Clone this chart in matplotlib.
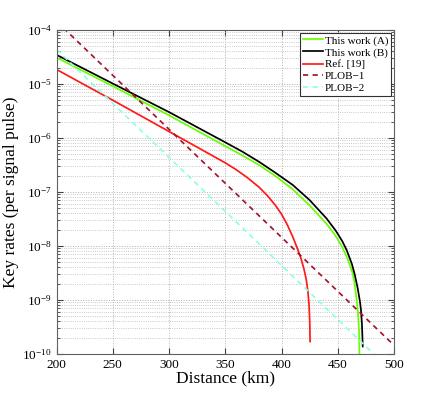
import matplotlib
matplotlib.use("Agg")
import matplotlib.pyplot as plt
from matplotlib.ticker import LogLocator, NullFormatter, FixedLocator

plt.rcParams['font.family'] = ['Liberation Serif', 'DejaVu Serif']
plt.rcParams['mathtext.fontset'] = 'stix'

# Data
dist_a = [200, 250, 300, 350, 365, 380, 395, 410, 425, 440, 448, 454, 459,
          463, 465, 466.8, 468, 469.0, 469.4]
rate_a = [3.09e-5, 9.12e-6, 2.63e-6, 7.08e-7, 4.79e-7, 3.16e-7, 1.95e-7,
          1.12e-7, 5.62e-8, 2.57e-8, 1.55e-8, 9.55e-9, 5.62e-9,
          3.24e-9, 2.0e-9, 1.0e-9, 5.62e-10, 2.51e-10, 6.3e-11]

dist_b = [200, 250, 300, 350, 365, 380, 395, 410, 425, 440, 448, 454, 458,
          462.5, 465, 467.7, 469.8, 470.7, 471.5, 472.2]
rate_b = [3.47e-5, 1.02e-5, 3.02e-6, 8.32e-7, 5.62e-7, 3.63e-7, 2.24e-7,
          1.35e-7, 7.08e-8, 3.24e-8, 1.95e-8, 1.23e-8, 8.32e-9,
          4.68e-9, 3.02e-9, 1.66e-9, 9.12e-10, 6.31e-10, 3.55e-10, 1.38e-10]

dist_ref = [200, 250, 300, 350, 360, 370, 380, 388, 395, 400, 405, 410, 414,
            417, 420, 422, 423.5, 424.5, 425.1, 425.4]
rate_ref = [1.86e-5, 5.01e-6, 1.32e-6, 3.47e-7, 2.57e-7, 1.82e-7, 1.23e-7,
            8.32e-8, 5.50e-8, 3.89e-8, 2.51e-8, 1.48e-8, 9.12e-9,
            6.17e-9, 3.72e-9, 2.40e-9, 1.41e-9, 7.94e-10, 3.98e-10, 1.70e-10]

dist_plob = [200, 250, 300, 350, 400, 450, 500]
rate_plob1 = [1.45e-4, 1.45e-5, 1.45e-6, 1.45e-7, 1.45e-8, 1.45e-9, 1.45e-10]
rate_plob2 = [4.37e-5, 4.37e-6, 4.37e-7, 4.37e-8, 4.37e-9, 4.37e-10, 4.37e-11]

labels = ["This work (A)", "This work (B)", "Ref. [19]", "PLOB\u22121", "PLOB\u22122"]

fig = plt.figure(figsize=(4.36, 3.99), dpi=100)
ax = fig.add_axes([0.1296, 0.1128, 0.7741, 0.812])

lw = 1.25
ax.plot(dist_a, rate_a, color='#66ff00', lw=lw, label=labels[0])
ax.plot(dist_b, rate_b, color='black', lw=lw, label=labels[1])
ax.plot(dist_ref, rate_ref, color='#ff1a1a', lw=lw, label=labels[2])
ax.plot(dist_plob, rate_plob1, color='#a3162e', lw=lw, ls=(0, (3, 2.5)), label=labels[3])
ax.plot(dist_plob, rate_plob2, color='#8cffe6', lw=lw, ls=(0, (3, 2.5)), label=labels[4])

ax.set_yscale('log')
ax.set_xlim(200, 500)
ax.set_ylim(1e-10, 1e-4)
ax.xaxis.set_major_locator(FixedLocator([200, 250, 300, 350, 400, 450, 500]))
ax.yaxis.set_major_locator(LogLocator(base=10, numticks=10))
ax.yaxis.set_minor_locator(LogLocator(base=10, subs=range(2, 10), numticks=100))
ax.yaxis.set_minor_formatter(NullFormatter())

ax.grid(True, which='major', ls=':', color='#b0b0b0', lw=0.7)
ax.grid(True, which='minor', axis='y', ls=':', color='#b8b8b8', lw=0.6)

ax.tick_params(which='both', direction='in', top=True, right=True,
               labelsize=9.5, colors='#404040', labelcolor='black')
ax.tick_params(which='major', length=4)
ax.tick_params(which='minor', length=2)
for s in ax.spines.values():
    s.set_color('#606060')
    s.set_linewidth(0.8)

ax.set_xlabel("Distance (km)", fontsize=12.5, labelpad=0)
ax.set_ylabel("Key rates (per signal pulse)", fontsize=12.5, labelpad=2)

leg = ax.legend(loc='upper right', fontsize=8, handlelength=1.8,
                handletextpad=0.2, borderpad=0.25, labelspacing=0.18,
                borderaxespad=0.25, fancybox=False, framealpha=1)
leg.get_frame().set_edgecolor('#303030')
leg.get_frame().set_linewidth(0.8)

fig.savefig("out.png", dpi=100)
